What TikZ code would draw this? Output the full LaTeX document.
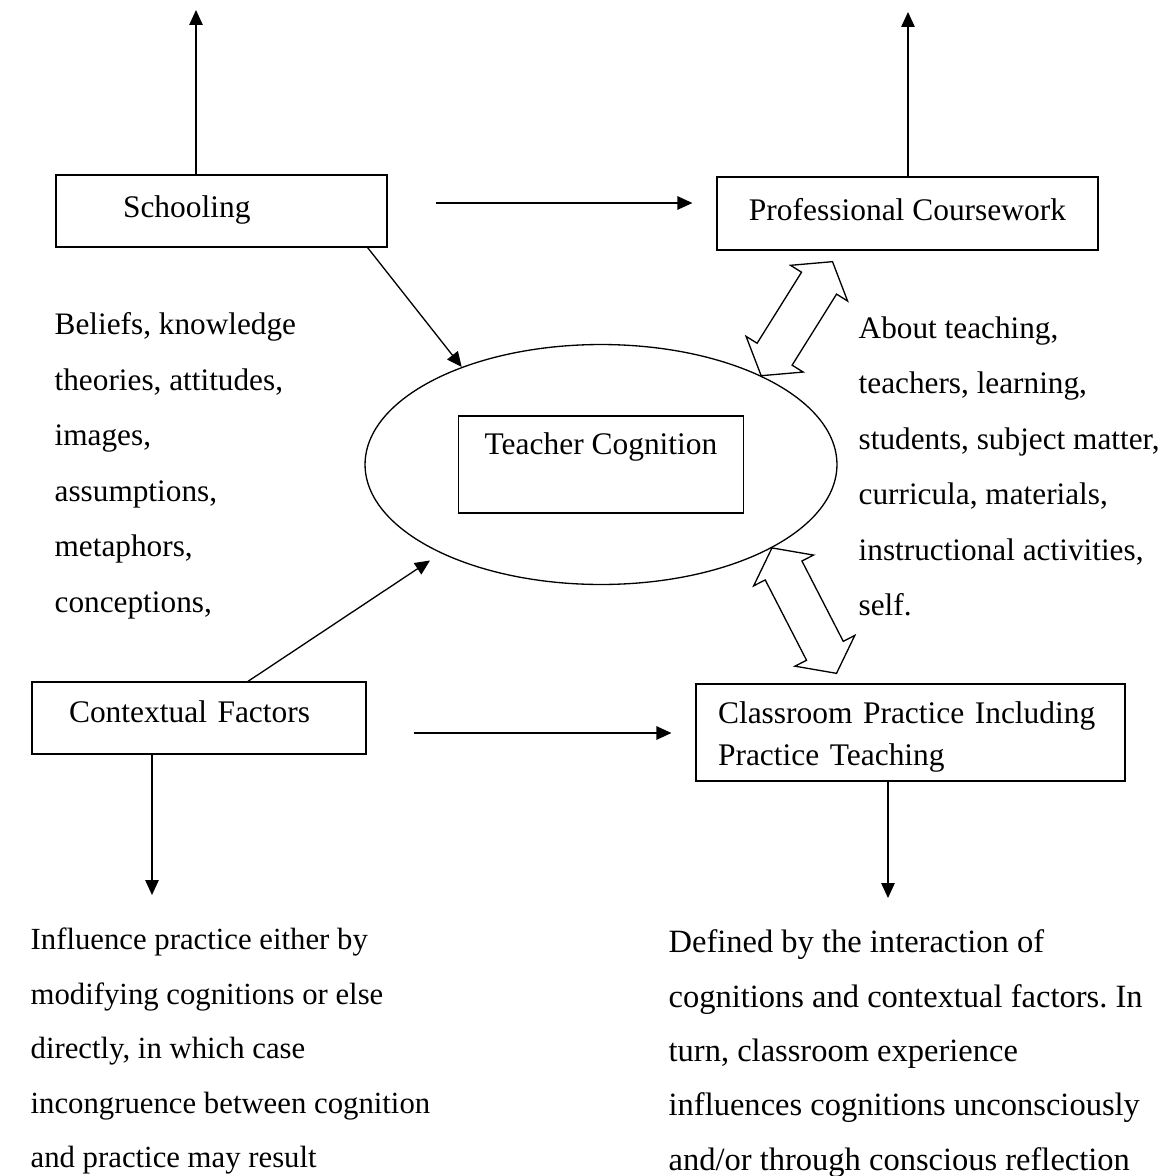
\documentclass[tikz,border=0pt]{standalone}
\usepackage{fontspec}
\setmainfont{Liberation Serif}
\usetikzlibrary{arrows.meta}
\usetikzlibrary{shapes.geometric}
\usetikzlibrary{shapes.arrows}
\usetikzlibrary{calc}

\begin{document}
\frenchspacing
\begin{tikzpicture} [
        x=0.02cm, y=-0.02cm,
        line width=0.75pt,
        >={Triangle[length=0.3cm, width=0.27cm]},
        box/.style={draw, rectangle, inner ysep=0.2cm, font=\fontsize{17.9}{24}\selectfont},
        notes/.style={align=left, inner sep=0pt, anchor=north west, font=\fontsize{17.8}{31.6}\selectfont},
        hollow/.style={draw, double arrow, double arrow tip angle=106,
            double arrow head extend=0.26cm, inner xsep=0pt, inner ysep=0.4cm,
            text height=0pt, text depth=0pt} ]
    \useasboundingbox (0,0) rectangle (1165,1176);
    \node[box, align=left, text width=3.94cm, inner xsep=1.34cm, text height=0.64cm, text depth=0.4cm] (school) at (221.5,211) {Schooling};
    \node[box, minimum width=7.62cm, text height=0.66cm, text depth=0.4cm] (prof) at (907.5,213.5) {Professional Coursework};
    \node[draw, ellipse, minimum width=9.44cm, minimum height=4.8cm, inner sep=0pt] (cog) at (601,464.5) {};
    \node[box, minimum width=5.7cm, inner ysep=0.32cm, text height=0.45cm, text depth=0.85cm] (tc) at (cog) {Teacher Cognition};
    \node[box, align=left, text width=5.2cm, inner xsep=0.74cm, text height=0.6cm, text depth=0.44cm] (ctx) at (199,718) {Contextual Factors};
    \node[box, align=left, text width=7.7cm, inner xsep=0.44cm, text height=0.58cm, text depth=0.96cm] (class) at (910.5,732.5) {Classroom Practice Including\\Practice Teaching};

    \node[notes] (beliefs) at (54,312) {Beliefs, knowledge\\theories, attitudes,\\images,\\assumptions,\\metaphors,\\conceptions,};
    \node[notes] (about) at (858,316) {About teaching,\\teachers, learning,\\students, subject matter,\\curricula, materials,\\instructional activities,\\self.};
    \node[notes, font=\fontsize{17.5}{31}\selectfont] (influence) at (30,927.5) {Influence practice either by\\modifying cognitions or else\\directly, in which case\\incongruence between cognition\\and practice may result};
    \node[notes, font=\fontsize{18.5}{31}\selectfont] (defined) at (668,929) {Defined by the interaction of\\cognitions and contextual factors. In\\turn, classroom experience\\influences cognitions unconsciously\\and/or through conscious reflection};

    \coordinate (schooltop) at (196,10);
    \coordinate (proftop) at (908,12);
    \coordinate (ctxdown) at (152,895);
    \coordinate (classdown) at (888,898);
    \draw[->] (schooltop |- school.north) -- (schooltop);
    \draw[->] (proftop |- prof.north) -- (proftop);
    \draw[->] (ctxdown |- ctx.south) -- (ctxdown);
    \draw[->] (classdown |- class.south) -- (classdown);

    \draw[->, shorten <=0.96cm, shorten >=0.48cm] ([yshift=0.16cm]school.east) -- ([yshift=0.16cm]school.east -| prof.west);
    \draw[->, shorten <=0.94cm, shorten >=0.48cm] ([yshift=-0.3cm]ctx.east) -- ([yshift=-0.3cm]ctx.east -| class.west);
    \draw[->] ([xshift=-0.4cm]school.south east) -- (cog.145);
    \draw[->, shorten >=0.26cm] ([xshift=0.98cm]ctx.north) -- (cog.209);

    \coordinate (pin1) at (cog.29);
    \coordinate (pin2) at ($(prof.south)+(-75,11)$);
    \coordinate (pin3) at (cog.-26);
    \coordinate (pin4) at ($(class.north)+(-74,-10)$);
    \path let \p1=($(pin2)-(pin1)$), \n1={atan2(\y1,\x1)}, \n2={veclen(\x1,\y1)} in
        node[hollow, rotate=\n1, minimum height=\n2] (link1) at ($(pin1)!0.5!(pin2)$) {};
    \path let \p1=($(pin4)-(pin3)$), \n1={atan2(\y1,\x1)}, \n2={veclen(\x1,\y1)} in
        node[hollow, rotate=\n1, minimum height=\n2] (link2) at ($(pin3)!0.5!(pin4)$) {};
\end{tikzpicture}
\end{document}
